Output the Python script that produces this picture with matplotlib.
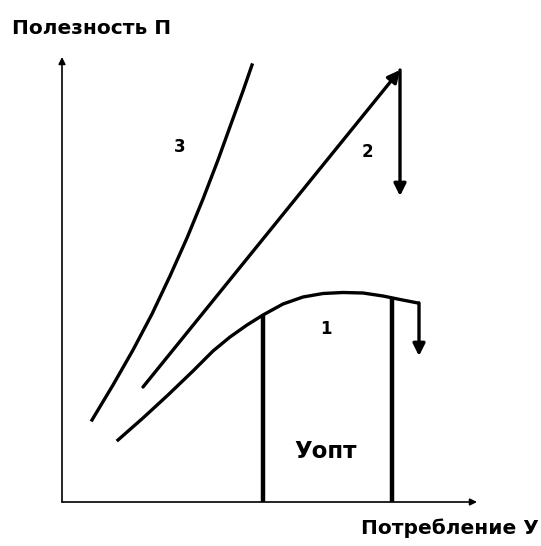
import matplotlib.pyplot as plt

# coordinates, in image units (x right, y down)
curve1_x = [118, 143, 168, 193, 213, 230, 247, 263, 283, 303, 323, 343, 363, 383, 400, 418]
curve1_y = [440, 418, 395, 371, 351, 337, 325, 315, 304, 297, 293.5, 292.5, 293, 296, 299.5, 303]
curve2_x = [143, 400]
curve2_y = [387, 70]
curve3_x = [92, 113, 133, 152, 170, 187, 203, 218, 231, 243, 252]
curve3_y = [420, 385, 350, 314, 276, 238, 199, 160, 124, 91, 65]
drop2 = (400, 70, 196)     # x, top, bottom of the downward arrow on line 2
drop1 = (419, 303, 356)    # x, top, bottom of the downward arrow on curve 1
opt_x = [263, 392]
opt_top = [315, 299]
axis_origin = (62, 502)
x_axis_end = 477
y_axis_end = 57

fig = plt.figure(figsize=(5.41, 5.46), dpi=100)
ax = fig.add_axes([0, 0, 1, 1])
ax.set_xlim(0, 541)
ax.set_ylim(546, 0)
ax.axis('off')

lw = 2.4
arrow = dict(arrowstyle='-|>', lw=lw, color='black', mutation_scale=18, shrinkA=0, shrinkB=0)

# axes
ax.annotate('', xy=(x_axis_end, axis_origin[1]), xytext=axis_origin,
            arrowprops=dict(arrowstyle='-|>', lw=1.2, color='black', mutation_scale=10,
                            shrinkA=0, shrinkB=0))
ax.annotate('', xy=(axis_origin[0], y_axis_end), xytext=axis_origin,
            arrowprops=dict(arrowstyle='-|>', lw=1.2, color='black', mutation_scale=10,
                            shrinkA=0, shrinkB=0))

# curves
ax.plot(curve3_x, curve3_y, color='black', lw=lw, solid_joinstyle='round')
ax.plot(curve1_x, curve1_y, color='black', lw=lw, solid_joinstyle='round')
ax.annotate('', xy=(curve2_x[1], curve2_y[1]), xytext=(curve2_x[0], curve2_y[0]), arrowprops=arrow)
ax.annotate('', xy=(drop2[0], drop2[2]), xytext=(drop2[0], drop2[1]), arrowprops=arrow)
ax.annotate('', xy=(drop1[0], drop1[2]), xytext=(drop1[0], drop1[1]), arrowprops=arrow)

# optimum bounds
for x, top in zip(opt_x, opt_top):
    ax.plot([x, x], [top, axis_origin[1]], color='black', lw=3.2, solid_capstyle='butt')

ax.text(180, 147, '3', fontsize=12, fontweight='bold', ha='center', va='center')
ax.text(367, 152, '2', fontsize=12, fontweight='bold', ha='center', va='center')
ax.text(326, 329, '1', fontsize=12, fontweight='bold', ha='center', va='center')
ax.text(326, 452, 'Уопт', fontsize=16.5, fontweight='bold', ha='center', va='center')
ax.text(12, 28, 'Полезность П', fontsize=14.5, fontweight='bold', ha='left', va='center')
ax.text(539, 528, 'Потребление У', fontsize=14.5, fontweight='bold', ha='right', va='center')

fig.savefig('out.png', dpi=100)
